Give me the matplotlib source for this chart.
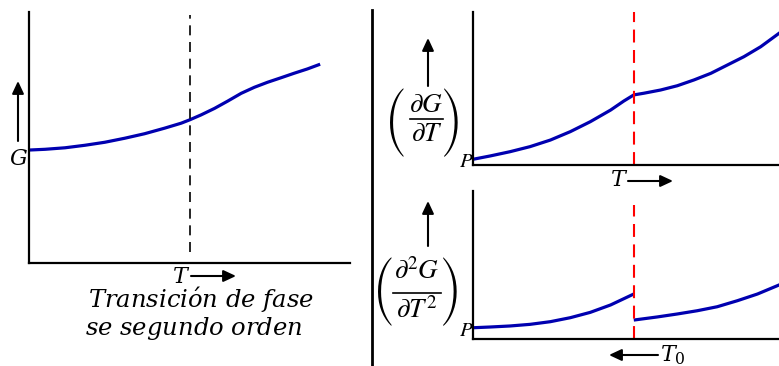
import numpy as np
import matplotlib
matplotlib.use("Agg")
import matplotlib.pyplot as plt
from matplotlib.patches import FancyArrowPatch

# G(T) across a second order transition at T0 (arbitrary units)
t_g = [0.0, 0.50, 1.12, 1.74, 2.36, 2.98, 3.60, 4.22, 4.74, 5.0,
       5.36, 5.78, 6.19, 6.61, 7.02, 7.43, 7.85, 8.26, 8.67, 9.07]
g_vals = [4.50, 4.53, 4.59, 4.69, 4.81, 4.97, 5.15, 5.37, 5.57, 5.70,
          5.90, 6.16, 6.45, 6.76, 7.00, 7.20, 7.38, 7.56, 7.73, 7.92]

# first derivative (dG/dT)_P : continuous, with a kink at T0
t_d1 = [0.0, 0.54, 1.16, 1.78, 2.41, 3.03, 3.65, 4.28, 4.69, 5.0,
        5.31, 5.83, 6.35, 6.87, 7.39, 7.91, 8.42, 8.94, 9.51, 9.57]
d1_vals = [0.37, 0.59, 0.87, 1.20, 1.63, 2.18, 2.83, 3.59, 4.18, 4.58,
           4.69, 4.90, 5.18, 5.56, 5.99, 6.54, 7.08, 7.73, 8.61, 8.70]

# second derivative (d2G/dT2)_P : jumps at T0
t_d2_low = [0.0, 0.54, 1.16, 1.78, 2.41, 3.03, 3.65, 4.28, 5.0]
d2_low = [0.76, 0.81, 0.88, 0.99, 1.17, 1.44, 1.80, 2.30, 3.04]
t_d2_high = [5.0, 5.73, 6.35, 6.97, 7.59, 8.22, 8.84, 9.51, 9.57]
d2_high = [1.28, 1.49, 1.69, 1.91, 2.18, 2.59, 3.04, 3.65, 3.71]

T0 = 5.0

W, H = 779, 366
blue = "#0000b0"


def rect(left, top, right, bottom):
    # pixel box -> figure fraction [l, b, w, h]
    return [left / W, 1 - bottom / H, (right - left) / W, (bottom - top) / H]


def fp(x, y):
    return (x / W, 1 - y / H)


fig = plt.figure(figsize=(W / 100, H / 100), dpi=100)

ax1 = fig.add_axes(rect(29, 12, 350, 263))
ax2 = fig.add_axes(rect(472.7, 12, 781, 165))
ax3 = fig.add_axes(rect(472.7, 191, 781, 339))

for ax in (ax1, ax2, ax3):
    for s in ("top", "right"):
        ax.spines[s].set_visible(False)
    for s in ("left", "bottom"):
        ax.spines[s].set_linewidth(1.6)
    ax.set_xticks([])
    ax.set_yticks([])
    ax.set_ylim(0, 10)

ax1.set_xlim(0, 10)
ax2.set_xlim(0, 9.57)
ax3.set_xlim(0, 9.57)

# left panel: G vs T
ax1.plot(t_g, g_vals, color=blue, lw=2.3, solid_capstyle="butt")
ax1.plot([T0, T0], [0.44, 9.88], color="black", lw=1.2, linestyle=(0, (6.0, 4.0)))

# right panels: derivatives
ax2.plot(t_d1, d1_vals, color=blue, lw=2.3, solid_capstyle="butt")
ax2.plot([T0, T0], [0, 10], color="red", lw=1.5, linestyle=(0, (6.2, 3.6)))

ax3.plot(t_d2_low, d2_low, color=blue, lw=2.3, solid_capstyle="butt")
ax3.plot(t_d2_high, d2_high, color=blue, lw=2.3, solid_capstyle="butt")
ax3.plot([T0, T0], [0, 9.05], color="red", lw=1.5, linestyle=(0, (6.2, 3.6)))

# separator between the two halves
fig.add_artist(plt.Line2D([372 / W, 372 / W], [0, 1 - 10 / H], color="black", lw=2.0))


def arrow(x0, y0, x1, y1):
    fig.add_artist(FancyArrowPatch(
        fp(x0, y0), fp(x1, y1), transform=fig.transFigure,
        arrowstyle="-|>,head_length=0.75,head_width=0.35", mutation_scale=10,
        color="black", lw=1.5, shrinkA=0, shrinkB=0))


mf = "dejavuserif"


def label(x, y, s, size=16, ha="center", va="center", font=mf):
    fig.text(*fp(x, y), s, fontsize=size, ha=ha, va=va, math_fontfamily=font)


def partial_label(xl, xr, y_mid, num, den, y_num, y_den, bar, p_pos):
    # (num / den)_P built from pieces so the brackets can be tall
    for xp, ch in ((xl, "("), (xr, ")")):
        fig.text(*fp(xp, y_mid), ch, fontsize=20, family="STIXSizeThreeSym",
                 ha="center", va="center")
    xc = (bar[0] + bar[1]) / 2
    label(xc, y_num, num, size=19.5, font="stix")
    label(xc, y_den, den, size=19.5, font="stix")
    fig.add_artist(plt.Line2D([bar[0] / W, bar[1] / W], [1 - bar[2] / H] * 2,
                              color="black", lw=1.2))
    label(*p_pos, r"$P$", size=15, font="stix")


# left panel labels
arrow(18, 141, 18, 81)
label(18, 159, r"$G$")
label(181, 283, r"$T$", va="baseline")
arrow(191, 276, 236, 276)
label(201, 300, r"$Transici\acute{o}n\ de\ fase$", size=17.5)
label(194, 329, r"$se\ segundo\ orden$", size=17.5)

# top right labels
arrow(428, 86, 428, 38)
partial_label(395, 452, 123, r"$\partial G$", r"$\partial T$", 105, 134,
              (410, 443, 119), (466, 161))
label(619, 180, r"$T$")
arrow(628, 181, 673, 181)

# bottom right labels
arrow(428, 246, 428, 201)
partial_label(383, 451, 292, r"$\partial^2 G$", r"$\partial T^2$", 272, 311,
              (393, 441, 293), (466, 330))
arrow(658, 355, 609, 355)
label(660, 355, r"$T_0$", ha="left")

fig.savefig("out.png", dpi=100)
